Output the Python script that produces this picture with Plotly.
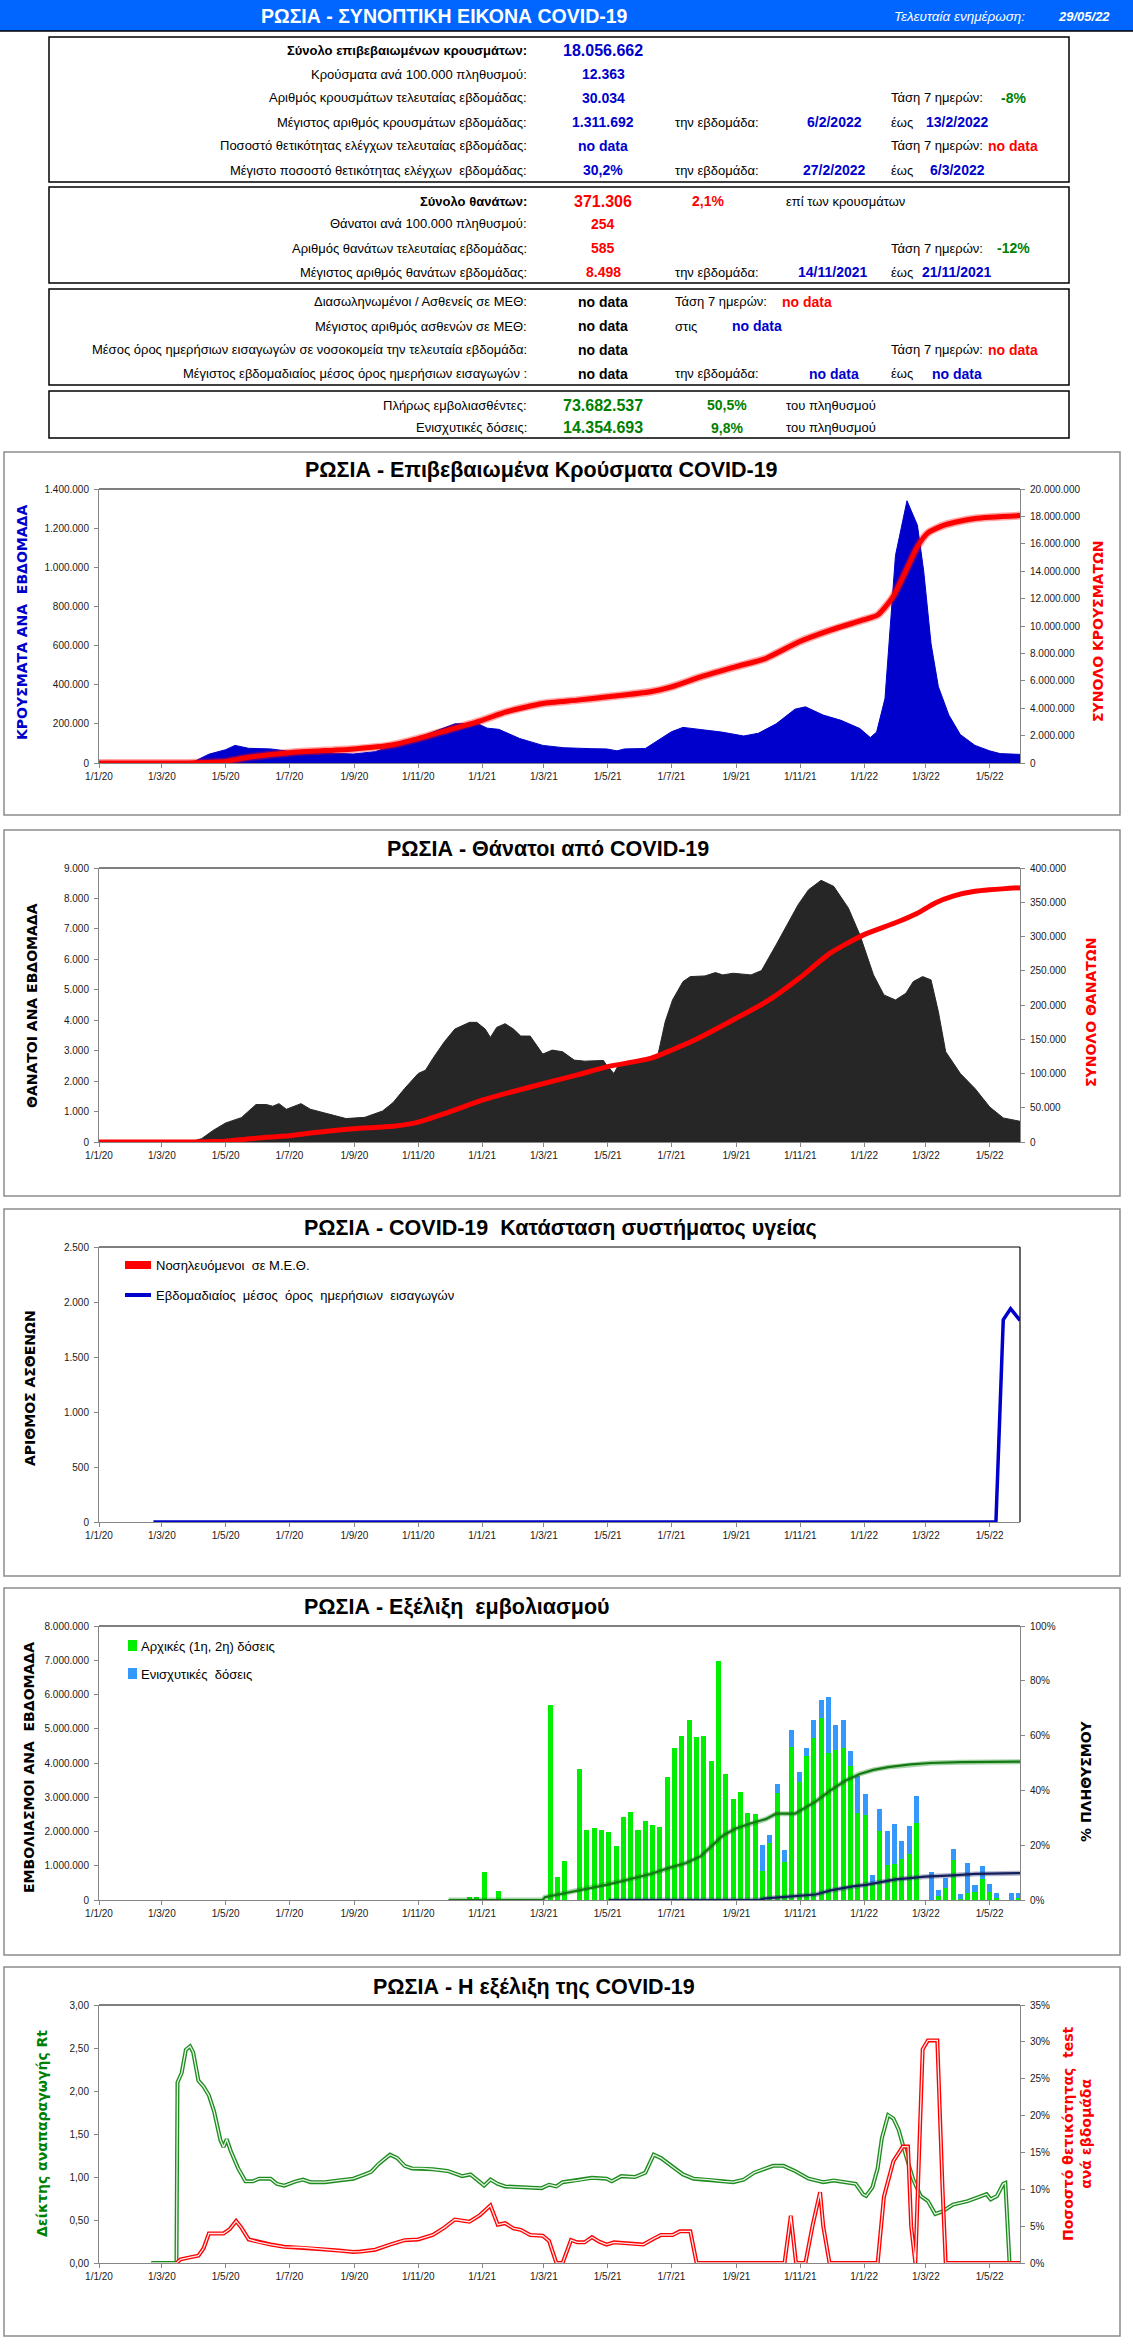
import plotly.graph_objects as go
import pandas as pd

W, H = 1133, 2345

# ------------------------------------------------------------------ data
TICK_DATES = [d.strftime("%Y-%m-%d") for d in pd.date_range("2020-01-01", "2022-05-01", freq="2MS")]
X_RANGE = ["2020-01-01", "2022-05-30"]

# chart 1 : weekly cases (area) and total cases (line)
CASES_WEEK_DATES = ["2020-01-01", "2020-03-20", "2020-04-01", "2020-04-15", "2020-05-01", "2020-05-10",
                    "2020-05-23", "2020-06-13", "2020-06-30", "2020-07-21", "2020-08-11", "2020-08-31",
                    "2020-09-21", "2020-10-08", "2020-11-01", "2020-11-22", "2020-12-06", "2020-12-27",
                    "2021-01-06", "2021-01-17", "2021-02-06", "2021-02-28", "2021-03-20", "2021-04-16",
                    "2021-04-30", "2021-05-10", "2021-05-17", "2021-06-06", "2021-07-01", "2021-07-12",
                    "2021-07-29", "2021-08-18", "2021-09-08", "2021-09-22", "2021-10-09", "2021-10-27",
                    "2021-11-06", "2021-11-23", "2021-12-10", "2021-12-28", "2022-01-07", "2022-01-13",
                    "2022-01-21", "2022-01-31", "2022-02-11", "2022-02-21", "2022-02-27", "2022-03-06",
                    "2022-03-13", "2022-03-23", "2022-04-03", "2022-04-17", "2022-05-01", "2022-05-11",
                    "2022-05-30"]
CASES_WEEK = [0, 0, 8000, 45000, 68000, 90000,
              75000, 72000, 60000, 55000, 48000, 46000,
              58000, 90000, 130000, 172000, 200000, 203000,
              178000, 172000, 125000, 90000, 78000, 73000,
              72000, 62000, 72000, 74000, 160000, 182000,
              172000, 158000, 138000, 152000, 200000, 275000,
              287000, 245000, 218000, 176000, 130000, 158000,
              330000, 1060000, 1340000, 1215000, 980000, 610000,
              390000, 245000, 145000, 90000, 62000, 48000,
              44000]

CASES_TOTAL_DATES = ["2020-01-01", "2020-03-20", "2020-04-01", "2020-05-01", "2020-05-20", "2020-07-01",
                     "2020-09-01", "2020-10-05", "2020-11-01", "2020-11-29", "2021-01-01", "2021-01-24",
                     "2021-02-28", "2021-04-02", "2021-05-01", "2021-06-11", "2021-07-01", "2021-07-29",
                     "2021-08-31", "2021-09-29", "2021-10-31", "2021-11-30", "2021-12-31", "2022-01-14",
                     "2022-01-28", "2022-02-11", "2022-02-21", "2022-03-03", "2022-03-20", "2022-04-17",
                     "2022-05-30"]
CASES_TOTAL = [0, 0, 20000, 120000, 380000, 750000,
               1030000, 1290000, 1780000, 2390000, 3120000, 3730000,
               4340000, 4590000, 4830000, 5200000, 5560000, 6290000,
               7020000, 7630000, 8850000, 9700000, 10440000, 10800000,
               12050000, 14200000, 15800000, 16800000, 17400000, 17850000,
               18056662]

# chart 2 : weekly deaths (area) and total deaths (line)
DEATHS_WEEK_DATES = ["2020-01-01", "2020-04-01", "2020-04-08", "2020-04-19", "2020-05-01", "2020-05-16",
                     "2020-05-30", "2020-06-09", "2020-06-15", "2020-06-21", "2020-06-28", "2020-07-12",
                     "2020-07-21", "2020-08-07", "2020-08-24", "2020-09-11", "2020-09-28", "2020-10-08",
                     "2020-10-19", "2020-11-01", "2020-11-08", "2020-11-15", "2020-11-26", "2020-12-06",
                     "2020-12-20", "2020-12-27", "2021-01-04", "2021-01-09", "2021-01-15", "2021-01-23",
                     "2021-01-31", "2021-02-07", "2021-02-16", "2021-02-28", "2021-03-09", "2021-03-19",
                     "2021-03-30", "2021-04-09", "2021-04-18", "2021-04-27", "2021-04-30", "2021-05-07",
                     "2021-05-11", "2021-05-21", "2021-06-11", "2021-06-18", "2021-06-25", "2021-07-02",
                     "2021-07-12", "2021-07-19", "2021-08-02", "2021-08-12", "2021-08-19", "2021-08-29",
                     "2021-09-15", "2021-09-25", "2021-10-09", "2021-10-19", "2021-10-30", "2021-11-09",
                     "2021-11-21", "2021-12-03", "2021-12-17", "2021-12-28", "2022-01-10", "2022-01-20",
                     "2022-01-31", "2022-02-10", "2022-02-17", "2022-02-26", "2022-03-06", "2022-03-13",
                     "2022-03-20", "2022-04-03", "2022-04-17", "2022-05-01", "2022-05-14", "2022-05-30"]
DEATHS_WEEK = [0, 40, 110, 380, 625, 800,
               1230, 1230, 1175, 1260, 1075, 1260,
               1075, 930, 770, 810, 1020, 1295,
               1756, 2250, 2360, 2744, 3293, 3710,
               3930, 3930, 3710, 3436, 3765, 3886,
               3710, 3480, 3480, 2887, 3018, 2964,
               2690, 2656, 2656, 2678, 2525, 2250,
               2503, 2635, 2690, 2854, 3952, 4665,
               5269, 5433, 5455, 5565, 5488, 5543,
               5488, 5631, 6476, 7080, 7793, 8287,
               8595, 8397, 7684, 6806, 5488, 4830,
               4665, 4885, 5269, 5433, 5324, 4281,
               2964, 2250, 1756, 1153, 790, 680]

DEATHS_TOTAL_DATES = ["2020-01-01", "2020-04-01", "2020-04-15", "2020-05-01", "2020-05-20", "2020-06-09",
                      "2020-07-01", "2020-07-21", "2020-09-01", "2020-10-08", "2020-11-01", "2020-11-29",
                      "2021-01-01", "2021-01-24", "2021-02-28", "2021-04-02", "2021-05-01", "2021-06-11",
                      "2021-07-01", "2021-07-22", "2021-08-31", "2021-10-02", "2021-10-31", "2021-11-30",
                      "2021-12-31", "2022-01-31", "2022-02-21", "2022-03-10", "2022-03-27", "2022-04-17",
                      "2022-05-30"]
DEATHS_TOTAL = [0, 0, 500, 1100, 4000, 7000,
                9000, 13000, 19500, 23000, 29000, 43000,
                61000, 71000, 85000, 98000, 110000, 122000,
                134000, 148000, 180000, 207000, 239000, 276000,
                302000, 320000, 334000, 349000, 359000, 366000,
                371306]

# chart 3 : health system
HOSP_DATES = ["2020-02-22", "2022-05-07", "2022-05-14", "2022-05-21", "2022-05-30"]
HOSP_ADMISSIONS = [0, 0, 1839, 1939, 1833]

# chart 4 : vaccination (weekly doses, bars) and coverage (% of population)
VAX_FIRST_WEEK = "2020-12-20"
VAX_PRIMARY = [80000, 80000, 820000, 0, 270000, 0, 0, 0, 0, 0,
               0, 5690000, 680000, 1130000, 0, 3820000, 2050000, 2100000, 2050000, 1980000,
               1580000, 2420000, 2570000, 2050000, 2300000, 2200000, 2130000, 3600000, 4450000, 4800000,
               5270000, 4770000, 4800000, 4070000, 6980000, 3680000, 2960000, 3150000, 2550000, 2520000,
               850000, 1650000, 3120000, 1100000, 4480000, 3450000, 4200000, 4720000, 5300000, 4300000,
               4370000, 4450000, 3920000, 2550000, 2480000, 500000, 2010000, 1020000, 1060000, 1200000,
               1340000, 2260000, 0, 0, 130000, 360000, 1180000, 30000, 210000, 240000,
               610000, 240000, 70000, 0, 0, 70000]
VAX_BOOSTER = [0, 0, 0, 0, 0, 0, 0, 0, 0, 0,
               0, 0, 0, 0, 0, 0, 0, 0, 0, 0,
               0, 0, 0, 0, 0, 0, 0, 0, 0, 0,
               0, 0, 0, 0, 0, 0, 0, 0, 0, 0,
               750000, 250000, 280000, 350000, 470000, 300000, 250000, 530000, 530000, 1620000,
               750000, 820000, 430000, 1070000, 610000, 230000, 650000, 990000, 1160000, 520000,
               820000, 780000, 0, 820000, 160000, 290000, 310000, 150000, 870000, 200000,
               380000, 230000, 130000, 0, 200000, 130000]
VAX_WEEKS = [d.strftime("%Y-%m-%d") for d in pd.date_range(VAX_FIRST_WEEK, periods=len(VAX_PRIMARY), freq="7D")]

FULL_DATES = ["2020-11-30", "2021-02-28", "2021-03-02", "2021-03-27", "2021-04-02", "2021-04-30",
              "2021-05-21", "2021-06-11", "2021-07-01", "2021-07-15", "2021-07-29", "2021-08-12",
              "2021-08-19", "2021-08-31", "2021-09-15", "2021-09-29", "2021-10-09", "2021-10-27",
              "2021-11-03", "2021-11-16", "2021-11-30", "2021-12-14", "2021-12-28", "2022-01-10",
              "2022-01-24", "2022-02-14", "2022-03-06", "2022-04-03", "2022-05-30"]
FULL_PCT = [0, 0, 1.0, 3.0, 3.5, 5.5,
            7.5, 9.5, 12.0, 13.5, 16.0, 21.0,
            23.5, 26.0, 28.0, 29.5, 31.5, 31.5,
            33.0, 36.0, 40.0, 43.5, 46.0, 47.5,
            48.5, 49.5, 50.0, 50.3, 50.5]
BOOST_DATES = ["2021-05-02", "2021-09-22", "2021-09-29", "2021-10-27", "2021-11-16", "2021-11-30",
               "2021-12-21", "2022-01-03", "2022-01-17", "2022-01-31", "2022-02-14", "2022-02-28",
               "2022-03-27", "2022-04-17", "2022-05-30"]
BOOST_PCT = [0, 0, 0.6, 1.3, 2.0, 3.5,
             5.0, 5.5, 6.5, 7.5, 8.0, 8.5,
             9.0, 9.5, 9.8]

# chart 5 : Rt and weekly test positivity
RT_DATES = ["2020-02-20", "2020-03-15", "2020-03-16", "2020-03-20", "2020-03-24", "2020-03-28", "2020-03-31",
            "2020-04-05", "2020-04-10", "2020-04-15", "2020-04-20", "2020-04-26", "2020-04-29", "2020-05-02",
            "2020-05-06", "2020-05-13", "2020-05-20", "2020-05-27", "2020-06-02", "2020-06-13", "2020-06-19",
            "2020-06-26", "2020-07-07", "2020-07-14", "2020-07-21", "2020-08-04", "2020-08-17", "2020-08-31",
            "2020-09-11", "2020-09-17", "2020-09-24", "2020-10-05", "2020-10-12", "2020-10-19", "2020-10-26",
            "2020-11-05", "2020-11-15", "2020-11-29", "2020-12-13", "2020-12-21", "2020-12-27", "2021-01-03",
            "2021-01-09", "2021-01-16", "2021-01-23", "2021-02-06", "2021-02-27", "2021-03-06", "2021-03-13",
            "2021-03-19", "2021-04-02", "2021-04-16", "2021-04-30", "2021-05-05", "2021-05-14", "2021-05-27",
            "2021-06-06", "2021-06-14", "2021-06-21", "2021-07-02", "2021-07-12", "2021-07-22", "2021-08-05",
            "2021-08-19", "2021-08-29", "2021-09-08", "2021-09-18", "2021-09-29", "2021-10-06", "2021-10-16",
            "2021-10-27", "2021-11-09", "2021-11-23", "2021-12-03", "2021-12-14", "2021-12-24", "2021-12-31",
            "2022-01-03", "2022-01-09", "2022-01-14", "2022-01-18", "2022-01-24", "2022-01-29", "2022-02-03",
            "2022-02-10", "2022-02-17", "2022-02-24", "2022-03-03", "2022-03-10", "2022-03-17", "2022-03-27",
            "2022-04-10", "2022-04-21", "2022-04-28", "2022-05-02", "2022-05-08", "2022-05-14", "2022-05-16",
            "2022-05-20"]
RT = [0, 0, 2.10, 2.21, 2.48, 2.52, 2.45,
      2.12, 2.05, 1.95, 1.76, 1.43, 1.35, 1.44,
      1.30, 1.10, 0.95, 0.95, 0.98, 0.98, 0.92,
      0.90, 0.95, 0.97, 0.94, 0.94, 0.96, 0.98,
      1.03, 1.06, 1.15, 1.26, 1.22, 1.13, 1.10,
      1.10, 1.09, 1.07, 1.01, 1.03, 0.97, 0.90,
      0.97, 0.92, 0.89, 0.88, 0.87, 0.91, 0.89,
      0.94, 0.96, 0.99, 0.98, 0.95, 1.01, 1.00,
      1.05, 1.26, 1.22, 1.12, 1.03, 0.98, 0.97,
      0.95, 0.94, 0.97, 1.05, 1.10, 1.13, 1.13,
      1.07, 0.98, 0.94, 0.96, 0.94, 0.92, 0.80,
      0.78, 0.88, 1.10, 1.45, 1.72, 1.68, 1.55,
      1.25, 0.97, 0.78, 0.72, 0.57, 0.60, 0.68,
      0.72, 0.77, 0.80, 0.74, 0.78, 0.92, 0.93,
      0.0]

POS_DATES = ["2020-03-15", "2020-03-19", "2020-03-29", "2020-04-05", "2020-04-10", "2020-04-15", "2020-04-29",
             "2020-05-05", "2020-05-11", "2020-05-16", "2020-05-23", "2020-06-02", "2020-06-13", "2020-06-26",
             "2020-07-14", "2020-07-28", "2020-08-17", "2020-08-31", "2020-09-07", "2020-09-21", "2020-10-05",
             "2020-10-19", "2020-11-01", "2020-11-15", "2020-11-26", "2020-12-06", "2020-12-20", "2020-12-30",
             "2021-01-09", "2021-01-16", "2021-01-23", "2021-01-31", "2021-02-07", "2021-02-16", "2021-02-28",
             "2021-03-06", "2021-03-13", "2021-03-19", "2021-03-27", "2021-04-02", "2021-04-09", "2021-04-16",
             "2021-04-23", "2021-04-30", "2021-05-07", "2021-05-21", "2021-06-04", "2021-06-14", "2021-06-21",
             "2021-07-02", "2021-07-09", "2021-07-19", "2021-07-25", "2021-10-17", "2021-10-23", "2021-10-28",
             "2021-11-06", "2021-11-13", "2021-11-20", "2021-11-23", "2021-11-29", "2022-01-14", "2022-01-20",
             "2022-01-29", "2022-02-07", "2022-02-12", "2022-02-15", "2022-02-19", "2022-02-26", "2022-03-03",
             "2022-03-12", "2022-03-17", "2022-03-20", "2022-05-30"]
POS_PCT = [0, 0.5, 0.8, 1.0, 2.0, 4.0, 4.0,
           4.6, 5.7, 4.8, 3.2, 2.8, 2.5, 2.2,
           2.1, 1.9, 1.7, 1.5, 1.55, 1.8, 2.5,
           3.1, 3.2, 3.8, 4.8, 5.9, 5.6, 6.5,
           7.8, 5.2, 5.4, 4.7, 4.5, 3.8, 3.7,
           3.0, 0, 0, 3.1, 2.8, 2.8, 3.5,
           2.9, 2.5, 2.8, 2.7, 2.5, 3.3, 3.8,
           3.8, 4.3, 4.3, 0, 0, 6.4, 0,
           0, 5.2, 9.6, 5.0, 0, 0, 9.0,
           13.8, 15.8, 15.8, 5.0, 0, 29.0, 30.2,
           30.2, 10.0, 0, 0]

# summary tables (text)
HEADER_TITLE = "ΡΩΣΙΑ - ΣΥΝΟΠΤΙΚΗ ΕΙΚΟΝΑ COVID-19"
HEADER_UPDATED = "Τελευταία ενημέρωση:"
HEADER_DATE = "29/05/22"

# ------------------------------------------------------------------ style
FONT = "Liberation Sans, Arial, sans-serif"
WIDE = "DejaVu Sans, Verdana, sans-serif"
BLUE = "#0000CC"
RED = "#FF0000"
GREEN = "#008000"
AXGRAY = "#868686"
TICKFONT = dict(family=FONT, size=10, color="#1a1a1a")

XDOM = [99 / W, 1020 / W]
PLOTS = [(489, 763), (868, 1142), (1247, 1522), (1626, 1900), (2005, 2263)]
FRAMES = [(452, 815), (830, 1196), (1209, 1576), (1588, 1955), (1967, 2336)]


def px(x):
    return x / W


def py(y):
    return 1 - y / H


def ydom(i):
    t, b = PLOTS[i]
    return [1 - b / H, 1 - t / H]


fig = go.Figure()

# chart 1
fig.add_trace(go.Scatter(x=CASES_WEEK_DATES, y=CASES_WEEK, mode="lines", fill="tozeroy",
                         line=dict(color=BLUE, width=1), fillcolor=BLUE, xaxis="x", yaxis="y",
                         showlegend=False, hoverinfo="skip"))
fig.add_trace(go.Scatter(x=CASES_TOTAL_DATES, y=CASES_TOTAL, mode="lines",
                         line=dict(color="rgba(255,0,0,0.35)", width=8, shape="spline", smoothing=0.6),
                         xaxis="x", yaxis="y6", showlegend=False, hoverinfo="skip"))
fig.add_trace(go.Scatter(x=CASES_TOTAL_DATES, y=CASES_TOTAL, mode="lines",
                         line=dict(color=RED, width=5, shape="spline", smoothing=0.6),
                         xaxis="x", yaxis="y6", showlegend=False))

# chart 2
fig.add_trace(go.Scatter(x=DEATHS_WEEK_DATES, y=DEATHS_WEEK, mode="lines", fill="tozeroy",
                         line=dict(color="#262626", width=1), fillcolor="#262626", xaxis="x2", yaxis="y2",
                         showlegend=False, hoverinfo="skip"))
fig.add_trace(go.Scatter(x=DEATHS_TOTAL_DATES, y=DEATHS_TOTAL, mode="lines",
                         line=dict(color=RED, width=5, shape="spline", smoothing=0.6),
                         xaxis="x2", yaxis="y7", showlegend=False))

# chart 3
fig.add_trace(go.Scatter(x=HOSP_DATES, y=HOSP_ADMISSIONS, mode="lines",
                         line=dict(color=BLUE, width=3.5), xaxis="x3", yaxis="y3", showlegend=False))

# chart 4
BAR_W = 4.8 * 86400000
fig.add_trace(go.Bar(x=VAX_WEEKS, y=VAX_PRIMARY, width=BAR_W, marker=dict(color="#00EE00", line=dict(width=0)),
                     xaxis="x4", yaxis="y4", showlegend=False))
fig.add_trace(go.Bar(x=VAX_WEEKS, y=VAX_BOOSTER, width=BAR_W, marker=dict(color="#3399FF", line=dict(width=0)),
                     xaxis="x4", yaxis="y4", showlegend=False))
fig.add_trace(go.Scatter(x=FULL_DATES, y=FULL_PCT, mode="lines", line=dict(color="rgba(0,128,0,0.35)", width=5),
                         xaxis="x4", yaxis="y8", showlegend=False, hoverinfo="skip"))
fig.add_trace(go.Scatter(x=FULL_DATES, y=FULL_PCT, mode="lines", line=dict(color="#137A13", width=2.2),
                         xaxis="x4", yaxis="y8", showlegend=False))
fig.add_trace(go.Scatter(x=BOOST_DATES, y=BOOST_PCT, mode="lines", line=dict(color="rgba(40,50,110,0.35)", width=5),
                         xaxis="x4", yaxis="y8", showlegend=False, hoverinfo="skip"))
fig.add_trace(go.Scatter(x=BOOST_DATES, y=BOOST_PCT, mode="lines", line=dict(color="#141E5C", width=2.2),
                         xaxis="x4", yaxis="y8", showlegend=False))

# chart 5 (double lines)
fig.add_trace(go.Scatter(x=RT_DATES, y=RT, mode="lines", line=dict(color="#1E8C1E", width=4),
                         xaxis="x5", yaxis="y5", showlegend=False))
fig.add_trace(go.Scatter(x=RT_DATES, y=RT, mode="lines", line=dict(color="#E8F5E8", width=1.3),
                         xaxis="x5", yaxis="y5", showlegend=False, hoverinfo="skip"))
fig.add_trace(go.Scatter(x=POS_DATES, y=POS_PCT, mode="lines", line=dict(color=RED, width=4),
                         xaxis="x5", yaxis="y9", showlegend=False))
fig.add_trace(go.Scatter(x=POS_DATES, y=POS_PCT, mode="lines", line=dict(color="#FFE8E8", width=1.3),
                         xaxis="x5", yaxis="y9", showlegend=False, hoverinfo="skip"))


def xax(anchor):
    return dict(domain=XDOM, range=X_RANGE, type="date", tickmode="array", tickvals=TICK_DATES,
                tickformat="%-d/%-m/%y", ticks="outside", ticklen=4, tickcolor=AXGRAY,
                showline=True, linecolor=AXGRAY, linewidth=1, showgrid=False, zeroline=False,
                tickfont=TICKFONT, anchor=anchor, fixedrange=True, automargin=False)


def yax(i, rng, dtick, fmt="", suffix="", anchor=None, side="left", overlaying=None):
    d = dict(range=rng, dtick=dtick, tick0=0, tickformat=fmt, ticksuffix=suffix, ticks="outside",
             ticklen=4, tickcolor=AXGRAY, showline=True, linecolor=AXGRAY, linewidth=1,
             showgrid=False, zeroline=False, tickfont=TICKFONT, fixedrange=True, side=side,
             anchor=anchor, ticklabelstandoff=3, automargin=False)
    if overlaying:
        d["overlaying"] = overlaying
    else:
        d["domain"] = ydom(i)
    return d


layout = dict(
    width=W, height=H, margin=dict(l=0, r=0, t=0, b=0, pad=0, autoexpand=False),
    paper_bgcolor="white", plot_bgcolor="white", separators=",.",
    barmode="stack", bargap=0, showlegend=False,
    font=dict(family=FONT, size=12, color="black"),
    xaxis=xax("y"), xaxis2=xax("y2"), xaxis3=xax("y3"), xaxis4=xax("y4"), xaxis5=xax("y5"),
    yaxis=yax(0, [0, 1400000], 200000, ",", anchor="x"),
    yaxis2=yax(1, [0, 9000], 1000, ",", anchor="x2"),
    yaxis3=yax(2, [0, 2500], 500, ",", anchor="x3"),
    yaxis4=yax(3, [0, 8000000], 1000000, ",", anchor="x4"),
    yaxis5=yax(4, [0, 3], 0.5, ".2f", anchor="x5"),
    yaxis6=yax(0, [0, 20000000], 2000000, ",", anchor="x", side="right", overlaying="y"),
    yaxis7=yax(1, [0, 400000], 50000, ",", anchor="x2", side="right", overlaying="y2"),
    yaxis8=yax(3, [0, 100], 20, "d", "%", anchor="x4", side="right", overlaying="y4"),
    yaxis9=yax(4, [0, 35], 5, "d", "%", anchor="x5", side="right", overlaying="y5"),
)
fig.update_layout(**layout)

shapes = []
annotations = []


def rect(x0, y0, x1, y1, line="black", lw=1.5, fill=None, layer="above"):
    shapes.append(dict(type="rect", xref="paper", yref="paper", x0=px(x0), x1=px(x1), y0=py(y1), y1=py(y0),
                       line=dict(color=line, width=lw) if line else dict(width=0),
                       fillcolor=fill if fill else "rgba(0,0,0,0)", layer=layer))


def hline(x0, x1, y, color="black", lw=1):
    shapes.append(dict(type="line", xref="paper", yref="paper", x0=px(x0), x1=px(x1), y0=py(y), y1=py(y),
                       line=dict(color=color, width=lw)))


def vline(x, y0, y1, color="black", lw=1):
    shapes.append(dict(type="line", xref="paper", yref="paper", x0=px(x), x1=px(x), y0=py(y0), y1=py(y1),
                       line=dict(color=color, width=lw)))


def txt(x, y, s, size=13, color="black", anchor="left", bold=False, italic=False, family=FONT, angle=0):
    if bold:
        s = "<b>" + s + "</b>"
    if italic:
        s = "<i>" + s + "</i>"
    annotations.append(dict(x=px(x), y=py(y), xref="paper", yref="paper", text=s, showarrow=False,
                            xanchor=anchor, yanchor="middle", textangle=angle,
                            font=dict(family=family, size=size, color=color)))


# header
rect(0, 0, W, 31, line=None, fill="#0066FF", layer="below")
hline(0, W, 31, "black", 1.5)
txt(444, 16, HEADER_TITLE, 19.5, "white", "center", bold=True)
txt(892, 16, HEADER_UPDATED, 13.5, "white", "left", italic=True)
txt(1056, 16, HEADER_DATE, 13, "white", "left", bold=True, italic=True)

# summary tables
LABEL_X, VALUE_X = 529, 603
TABLE_BOXES = [(37, 182), (187, 283), (289, 385), (391, 438)]
for t, b in TABLE_BOXES:
    rect(49, t, 1069, b, "black", 1.5)

TABLE_ROWS = [
    # (y, label, label_bold, value, value_color, value_size, extra cells)
    (51, "Σύνολο επιβεβαιωμένων κρουσμάτων:", True, "18.056.662", BLUE, 16, []),
    (74, "Κρούσματα ανά 100.000 πληθυσμού:", False, "12.363", BLUE, 14, []),
    (98, "Αριθμός κρουσμάτων τελευταίας εβδομάδας:", False, "30.034", BLUE, 14,
     [(889, "Τάση 7 ημερών:", "black", "left", False), (1013, "-8%", GREEN, "center", True)]),
    (122, "Μέγιστος αριθμός κρουσμάτων εβδομάδας:", False, "1.311.692", BLUE, 14,
     [(673, "την εβδομάδα:", "black", "left", False), (834, "6/2/2022", BLUE, "center", True),
      (889, "έως", "black", "left", False), (957, "13/2/2022", BLUE, "center", True)]),
    (146, "Ποσοστό θετικότητας ελέγχων τελευταίας εβδομάδας:", False, "no data", BLUE, 14,
     [(889, "Τάση 7 ημερών:", "black", "left", False), (1013, "no data", RED, "center", True)]),
    (170, "Μέγιστο ποσοστό θετικότητας ελέγχων  εβδομάδας:", False, "30,2%", BLUE, 14,
     [(673, "την εβδομάδα:", "black", "left", False), (834, "27/2/2022", BLUE, "center", True),
      (889, "έως", "black", "left", False), (957, "6/3/2022", BLUE, "center", True)]),
    (201, "Σύνολο θανάτων:", True, "371.306", RED, 16,
     [(708, "2,1%", RED, "center", True), (784, "επί των κρουσμάτων", "black", "left", False)]),
    (224, "Θάνατοι ανά 100.000 πληθυσμού:", False, "254", RED, 14, []),
    (248, "Αριθμός θανάτων τελευταίας εβδομάδας:", False, "585", RED, 14,
     [(889, "Τάση 7 ημερών:", "black", "left", False), (1013, "-12%", GREEN, "center", True)]),
    (272, "Μέγιστος αριθμός θανάτων εβδομάδας:", False, "8.498", RED, 14,
     [(673, "την εβδομάδα:", "black", "left", False), (833, "14/11/2021", BLUE, "center", True),
      (889, "έως", "black", "left", False), (957, "21/11/2021", BLUE, "center", True)]),
    (302, "Διασωληνωμένοι / Ασθενείς σε ΜΕΘ:", False, "no data", "black", 14,
     [(673, "Τάση 7 ημερών:", "black", "left", False), (807, "no data", RED, "center", True)]),
    (326, "Μέγιστος αριθμός ασθενών σε ΜΕΘ:", False, "no data", "black", 14,
     [(673, "στις", "black", "left", False), (757, "no data", BLUE, "center", True)]),
    (350, "Μέσος όρος ημερήσιων εισαγωγών σε νοσοκομεία την τελευταία εβδομάδα:", False, "no data", "black", 14,
     [(889, "Τάση 7 ημερών:", "black", "left", False), (1013, "no data", RED, "center", True)]),
    (374, "Μέγιστος εβδομαδιαίος μέσος όρος ημερήσιων εισαγωγών :", False, "no data", "black", 14,
     [(673, "την εβδομάδα:", "black", "left", False), (834, "no data", BLUE, "center", True),
      (889, "έως", "black", "left", False), (957, "no data", BLUE, "center", True)]),
    (405, "Πλήρως εμβολιασθέντες:", False, "73.682.537", GREEN, 16,
     [(727, "50,5%", GREEN, "center", True), (784, "του πληθυσμού", "black", "left", False)]),
    (428, "Ενισχυτικές δόσεις:", False, "14.354.693", GREEN, 16,
     [(727, "9,8%", GREEN, "center", True), (784, "του πληθυσμού", "black", "left", False)]),
]
for y, label, lb, val, vc, vs, extras in TABLE_ROWS:
    txt(LABEL_X, y, label, 13, "black", "right", bold=lb)
    txt(VALUE_X, y, val, vs, vc, "center", bold=True)
    for x, s, c, a, b in extras:
        txt(x, y, s, 14 if b else 13, c, a, bold=b)

# chart frames, top borders
for (ft, fb), (pt, pb) in zip(FRAMES, PLOTS):
    rect(4, ft, 1120, fb, "#8C8C8C", 1.5)
    hline(99, 1020, pt, "black", 1.2)
vline(1020, PLOTS[2][0], PLOTS[2][1], "black", 1.2)

# chart titles
CHART_TITLES = [
    (541, 470, "ΡΩΣΙΑ - Επιβεβαιωμένα Κρούσματα COVID-19"),
    (548, 849, "ΡΩΣΙΑ - Θάνατοι από COVID-19"),
    (560, 1228, "ΡΩΣΙΑ - COVID-19  Κατάσταση συστήματος υγείας"),
    (457, 1607, "ΡΩΣΙΑ - Εξέλιξη  εμβολιασμού"),
    (534, 1987, "ΡΩΣΙΑ - Η εξέλιξη της COVID-19"),
]
for x, y, s in CHART_TITLES:
    txt(x, y, s, 21.5, "black", "center", bold=True)

# axis titles
AXIS_TITLES = [
    (22, 623, "ΚΡΟΥΣΜΑΤΑ ΑΝΑ  ΕΒΔΟΜΑΔΑ", BLUE),
    (1098, 631, "ΣΥΝΟΛΟ ΚΡΟΥΣΜΑΤΩΝ", RED),
    (32, 1006, "ΘΑΝΑΤΟΙ ΑΝΑ ΕΒΔΟΜΑΔΑ", "black"),
    (1091, 1013, "ΣΥΝΟΛΟ ΘΑΝΑΤΩΝ", RED),
    (30, 1388, "ΑΡΙΘΜΟΣ ΑΣΘΕΝΩΝ", "black"),
    (29, 1768, "ΕΜΒΟΛΙΑΣΜΟΙ ΑΝΑ  ΕΒΔΟΜΑΔΑ", "black"),
    (1086, 1781, "% ΠΛΗΘΥΣΜΟΥ", "black"),
    (42, 2133, "Δείκτης αναπαραγωγής Rt", GREEN),
    (1077, 2134, "Ποσοστό θετικότητας  test<br>ανά εβδομάδα", RED),
]
for x, y, s, c in AXIS_TITLES:
    txt(x, y, s, 14, c, "center", bold=True, family=WIDE, angle=-90)

# chart 3 legend
rect(125, 1261, 151, 1269, line=None, fill=RED)
hline(125, 151, 1295, BLUE, 4)
txt(154, 1265, "Νοσηλευόμενοι  σε Μ.Ε.Θ.", 13)
txt(154, 1295, "Εβδομαδιαίος  μέσος  όρος  ημερήσιων  εισαγωγών", 13)

# chart 4 legend
rect(128, 1640, 137, 1651, line=None, fill="#00EE00")
rect(128, 1668, 137, 1679, line=None, fill="#3399FF")
txt(139, 1646, "Αρχικές (1η, 2η) δόσεις", 13)
txt(139, 1674, "Ενισχυτικές  δόσεις", 13)

fig.update_layout(shapes=shapes, annotations=annotations)
fig.write_html("out.html", config={"displayModeBar": False},
               post_script="document.body.style.margin='0';document.body.style.padding='0';"
                           "document.documentElement.style.overflow='hidden';")
